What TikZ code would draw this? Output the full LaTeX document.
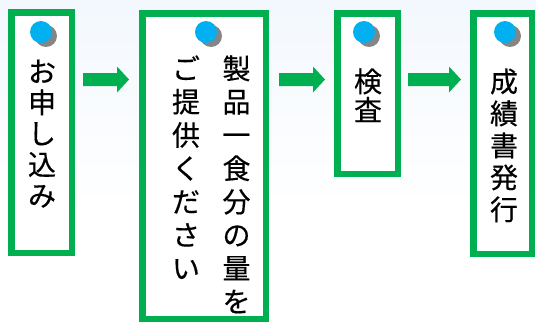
\documentclass[tikz,border=0pt]{standalone}
\usepackage{fontspec}
\newfontfamily\jp[FakeBold=0.35]{Noto Sans CJK JP}
\definecolor{grn}{HTML}{00B050}
\definecolor{dotblue}{HTML}{00B0F0}
\definecolor{shadowgray}{HTML}{858585}
\definecolor{bgtop}{RGB}{243,248,254}
\tikzset{
 stagebox/.style={draw=grn, line width=6.5pt, fill=white, rectangle, inner sep=0pt},
 flowarrow/.style={fill=grn, draw=none},
 jpchar/.style={font=\jp\fontsize{28}{28}\selectfont, anchor=base, inner sep=0pt},
 dotmark/.style={circle, fill=dotblue, minimum size=22pt, inner sep=0pt},
 dotshadow/.style={circle, fill=shadowgray, minimum size=22pt, inner sep=0pt},
}
\begin{document}
\begin{tikzpicture}[x=1pt,y=-1pt]
\useasboundingbox (0,0) rectangle (536,324);
\shade[top color=bgtop, bottom color=white] (0,0) rectangle (536,210);
% boxes
\node[stagebox, minimum width=60.5pt, minimum height=240.5pt] (b1) at (41.5,132.5) {};
\node[stagebox, minimum width=123.5pt, minimum height=305.5pt] (b2) at (204,166) {};
\node[stagebox, minimum width=60.5pt, minimum height=160.5pt] (b3) at (367.5,93.5) {};
\node[stagebox, minimum width=58.5pt, minimum height=240.5pt] (b4) at (502.5,133.5) {};
% arrows (block arrows between boxes)
\foreach \s/\t/\n in {83/129/1, 279/325/2, 408/461/3}{
  \coordinate (a\n s) at (\s,79.5);
  \coordinate (a\n t) at (\t,79.5);
  \fill[flowarrow] (\s,73) -- (\t-12,73) -- (\t-12,66.5) -- (a\n t) -- (\t-12,92.5) -- (\t-12,86) -- (\s,86) -- cycle;
}
% dots
\foreach \x/\n in {41/1,206/2,364/3,505/4}{
  \node[dotshadow] (s\n) at (\x+5,36) {};
  \node[dotmark] (d\n) at (\x,32) {};
}
% texts
\foreach \c [count=\i] in {お,申,し,込,み}
  \node[jpchar] (ta\i) at (42,{82+31*(\i-1)}) {\c};
\foreach \c [count=\i] in {製,品,一,食,分,の,量,を}
  \node[jpchar] (tb\i) at (236.5,{79+33.3*(\i-1)}) {\c};
\foreach \c [count=\i] in {ご,提,供,く,だ,さ,い}
  \node[jpchar] (tc\i) at (186,{79+33.3*(\i-1)}) {\c};
\foreach \c [count=\i] in {検,査}
  \node[jpchar] (td\i) at (368,{92+28.5*(\i-1)}) {\c};
\foreach \c [count=\i] in {成,績,書,発,行}
  \node[jpchar] (te\i) at (504,{92+32*(\i-1)}) {\c};
\end{tikzpicture}
\end{document}
